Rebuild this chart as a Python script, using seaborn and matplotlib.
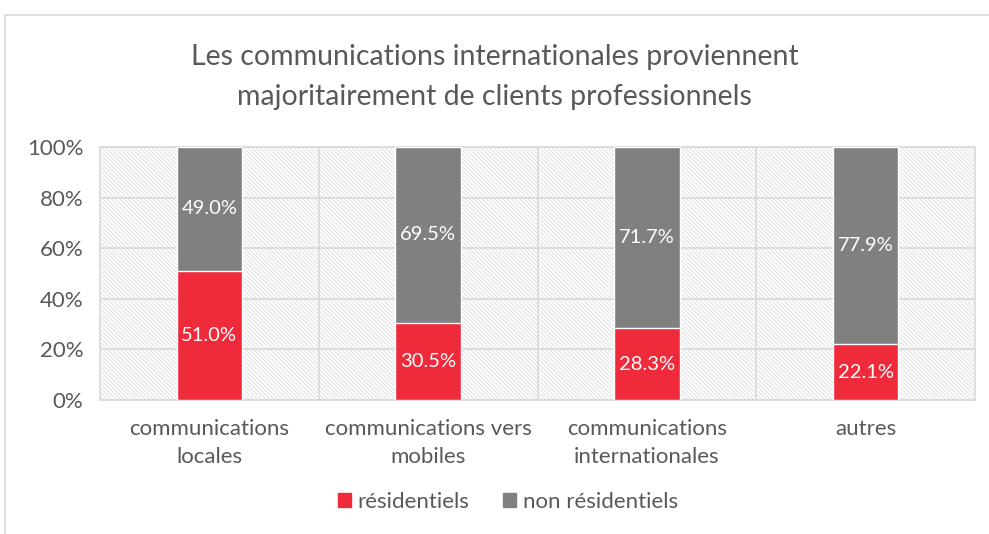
import numpy as np
import pandas as pd
import matplotlib.pyplot as plt
import seaborn as sns
from matplotlib.patches import Rectangle, Patch

# Données
categories = ['communications\nlocales', 'communications vers\nmobiles',
              'communications\ninternationales', 'autres']
residentiels = [51.0, 30.5, 28.3, 22.1]
non_residentiels = [49.0, 69.5, 71.7, 77.9]

rouge = '#ee2a3b'
gris = '#808080'
texte = '#595959'

sns.set_style('white')
plt.rcParams['font.family'] = ['Lato', 'DejaVu Sans']
plt.rcParams['hatch.linewidth'] = 0.6

df = pd.DataFrame({'cat': categories, 'res': residentiels, 'nonres': non_residentiels})
df['total'] = df['res'] + df['nonres']

fig = plt.figure(figsize=(9.89, 5.34), dpi=100)
ax = fig.add_axes([100 / 989, 1 - 400 / 534, 875 / 989, 253 / 534])

# fond hachuré
fond = Rectangle((0, 0), 1, 1, transform=ax.transAxes, facecolor='white',
                 edgecolor='#dadada', hatch='\\' * 8, linewidth=0, zorder=0)
ax.add_patch(fond)

sns.barplot(data=df, x='cat', y='total', color=gris, width=0.3, ax=ax,
            saturation=1, zorder=3)
sns.barplot(data=df, x='cat', y='res', color=rouge, width=0.3, ax=ax,
            saturation=1, zorder=4)

for i, (r, n) in enumerate(zip(residentiels, non_residentiels)):
    ax.text(i, r / 2, f'{r:.1f}%', ha='center', va='center', color='white',
            fontsize=14.5, zorder=5)
    ax.text(i, r + n / 2, f'{n:.1f}%', ha='center', va='center', color='white',
            fontsize=14.5, zorder=5)

ax.set_xlim(-0.5, 3.5)
ax.set_ylim(0, 100)
ax.set_yticks(np.arange(0, 101, 20))
ax.set_yticklabels([f'{v}%' for v in range(0, 101, 20)])
ax.set_xticks([0.5, 1.5, 2.5], minor=True)
ax.grid(True, axis='y', color='#d9d9d9', linewidth=1.2, zorder=1)
ax.grid(True, axis='x', which='minor', color='#d9d9d9', linewidth=1.2, zorder=1)
ax.grid(False, axis='x', which='major')
ax.set_axisbelow(True)
for s in ax.spines.values():
    s.set_color('#d9d9d9')
    s.set_linewidth(1.2)
ax.tick_params(axis='both', which='both', length=0, labelsize=16, colors=texte)
ax.tick_params(axis='y', pad=12)
ax.tick_params(axis='x', pad=14)
for lab in ax.get_xticklabels():
    lab.set_linespacing(1.45)
ax.set_xlabel('')
ax.set_ylabel('')

fig.suptitle('Les communications internationales proviennent\n'
             'majoritairement de clients professionnels',
             y=1 - 44 / 534, fontsize=20.5, color=texte, linespacing=1.65)

handles = [Patch(color=rouge, label='résidentiels'),
           Patch(color=gris, label='non résidentiels')]
fig.legend(handles=handles, loc='center', bbox_to_anchor=(508 / 989, 1 - 502 / 534),
           ncol=2, frameon=False, fontsize=16, handlelength=0.6, handleheight=0.6,
           handletextpad=0.3, columnspacing=1.5, labelcolor=texte)

# cadre de la figure
fig.add_artist(plt.Line2D([5 / 989, 5 / 989], [0, 1 - 15 / 534], color='#d9d9d9',
                          linewidth=1.2, transform=fig.transFigure))
fig.add_artist(plt.Line2D([5 / 989, 1], [1 - 15 / 534, 1 - 15 / 534], color='#d9d9d9',
                          linewidth=1.2, transform=fig.transFigure))

fig.savefig('out.png', dpi=100)
